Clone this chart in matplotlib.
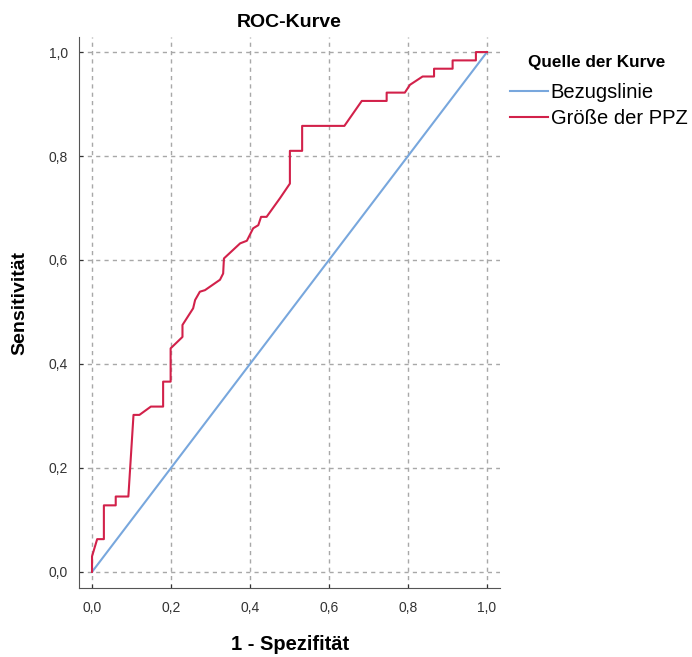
import matplotlib
matplotlib.use("Agg")
import matplotlib.pyplot as plt
from matplotlib.ticker import FuncFormatter

# Reference line
ref_x = [0.0, 1.0]
ref_y = [0.0, 1.0]

# ROC curve points (1 - specificity, sensitivity)
roc_x = [0.000, 0.000, 0.013, 0.030, 0.030, 0.060, 0.060, 0.092, 0.105, 0.120, 0.149,
         0.180, 0.180, 0.199, 0.199, 0.229, 0.229, 0.256, 0.261, 0.273, 0.286, 0.324,
         0.332, 0.334, 0.375, 0.392, 0.408, 0.421, 0.428, 0.442, 0.476, 0.501, 0.501,
         0.532, 0.532, 0.639, 0.683, 0.746, 0.746, 0.792, 0.805, 0.837, 0.866, 0.866,
         0.913, 0.913, 0.972, 0.972, 1.000]
roc_y = [0.000, 0.030, 0.063, 0.063, 0.128, 0.128, 0.145, 0.145, 0.302, 0.302, 0.318,
         0.318, 0.366, 0.366, 0.430, 0.452, 0.475, 0.507, 0.523, 0.539, 0.542, 0.562,
         0.574, 0.603, 0.632, 0.637, 0.661, 0.667, 0.683, 0.683, 0.719, 0.747, 0.810,
         0.810, 0.858, 0.858, 0.906, 0.906, 0.922, 0.922, 0.937, 0.953, 0.953, 0.968,
         0.968, 0.984, 0.984, 1.000, 1.000]

ticks = [0.0, 0.2, 0.4, 0.6, 0.8, 1.0]
series_names = ["Bezugslinie", "Größe der PPZ"]

W, H = 692, 657
fig = plt.figure(figsize=(W / 100, H / 100), dpi=100)
ax = fig.add_axes([79 / W, 1 - 588 / H, (500 - 79) / W, (588 - 37) / H])

ax.plot(ref_x, ref_y, color="#78a7dd", lw=1.5, label=series_names[0], zorder=3)
ax.plot(roc_x, roc_y, color="#d2214a", lw=1.5, label=series_names[1], zorder=4)

ax.set_xlim(-0.033, 1.033)
ax.set_ylim(-0.031, 1.029)
ax.set_xticks(ticks)
ax.set_yticks(ticks)
fmt = FuncFormatter(lambda v, p: f"{v:.1f}".replace(".", ","))
ax.xaxis.set_major_formatter(fmt)
ax.yaxis.set_major_formatter(fmt)
ax.tick_params(labelsize=10, colors="#333333", length=3, direction="in")
ax.tick_params(axis="x", pad=9)
ax.tick_params(axis="y", pad=8)
ax.grid(True, color="#a8a8a8", linestyle=(0, (3, 3)), lw=1.0)
for s in ["top", "right"]:
    ax.spines[s].set_visible(False)
for s in ["left", "bottom"]:
    ax.spines[s].set_color("#555555")

fam = ["Liberation Sans", "DejaVu Sans"]
ax.set_title("ROC-Kurve", fontsize=14, fontweight="bold", family=fam, pad=7)
ax.set_xlabel("1 - Spezifität", fontsize=14.5, fontweight="bold", family=fam)
ax.set_ylabel("Sensitivität", fontsize=14, fontweight="bold", family=fam)
ax.xaxis.label.set_va("center")
ax.yaxis.label.set_va("center")
ax.xaxis.set_label_coords((290 - 79) / 421, (588 - 644) / 551)
ax.yaxis.set_label_coords((20 - 79) / 421, (588 - 303) / 551)
for lab in ax.get_xticklabels() + ax.get_yticklabels():
    lab.set_family(fam)

fig.text(597 / W, 1 - 62.5 / H, "Quelle der Kurve", fontsize=12.3, fontweight="bold",
         family=fam, ha="center", va="center")
leg = ax.legend(loc="upper left", bbox_to_anchor=(510 / W, 1 - 83 / H),
                bbox_transform=fig.transFigure, frameon=False,
                handlelength=1.9, handletextpad=0.12, labelspacing=0.35,
                borderpad=0, borderaxespad=0,
                prop={"family": fam, "size": 14.5})

fig.savefig("out.png", dpi=100)
